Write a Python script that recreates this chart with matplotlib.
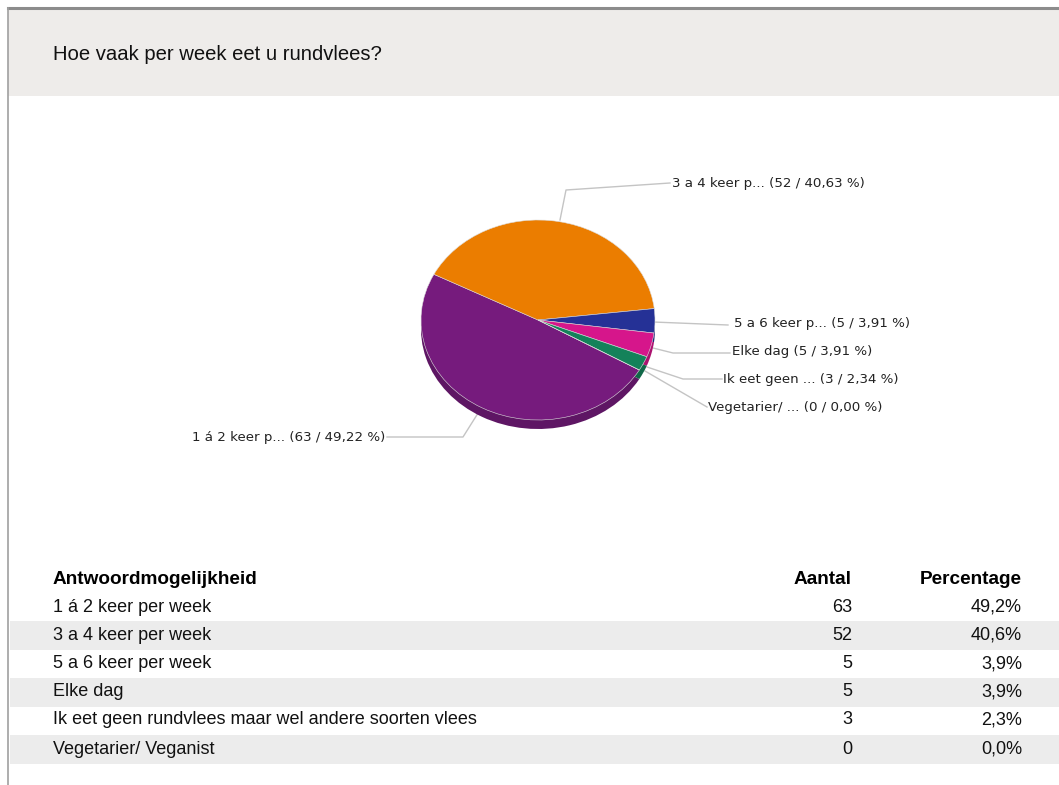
import numpy as np
import matplotlib.pyplot as plt
from matplotlib.colors import to_rgb
from decimal import Decimal, ROUND_HALF_UP

plt.rcParams['font.family'] = ['Liberation Sans', 'DejaVu Sans']

title = 'Hoe vaak per week eet u rundvlees?'
answers = ['1 á 2 keer per week', '3 a 4 keer per week', '5 a 6 keer per week',
           'Elke dag', 'Ik eet geen rundvlees maar wel andere soorten vlees',
           'Vegetarier/ Veganist']
short_names = ['1 á 2 keer p...', '3 a 4 keer p...', '5 a 6 keer p...',
               'Elke dag', 'Ik eet geen ...', 'Vegetarier/ ...']
counts = [63, 52, 5, 5, 3, 0]
colors = ['#761b7d', '#eb7d00', '#253196', '#d6168b', '#14825a', '#8a8a8a']


def pct_str(n, total, digits):
    q = Decimal(1).scaleb(-digits)
    v = (Decimal(100) * n / total).quantize(q, rounding=ROUND_HALF_UP)
    return str(v).replace('.', ',')


W, H = 1059, 785
fig = plt.figure(figsize=(W / 100, H / 100), dpi=100)
bg = fig.add_axes([0, 0, 1, 1])
bg.set_xlim(0, W)
bg.set_ylim(H, 0)
bg.axis('off')

# panel frame and header band
bg.add_patch(plt.Rectangle((8, 8), W, 88, color='#eeecea', lw=0, zorder=0))
bg.plot([8, W], [8, 8], color='#8c8c8c', lw=2.2)
bg.plot([8, 8], [8, H], color='#a0a0a0', lw=1.2)
bg.text(53, 55, title, fontsize=14.6, va='center', ha='left', color='#111111')

# pie: elliptical top face plus a darker rim for depth
cx, cy, rx, ry = 538, 320, 117, 100
pie_ax = fig.add_axes([(cx - rx) / W, 1 - (cy + ry + 10) / H, 2 * rx / W, (2 * ry + 10) / H])
dark = [tuple(c * 0.8 for c in to_rgb(col)) for col in colors]
pie_ax.pie(counts, colors=dark, startangle=-30, counterclock=False,
           center=(0, -0.09), radius=1, wedgeprops=dict(linewidth=0))
pie_ax.pie(counts, colors=colors, startangle=-30, counterclock=False,
           radius=1, wedgeprops=dict(linewidth=0.4, edgecolor='#dddddd'))
pie_ax.set_aspect('auto')
pie_ax.set_xlim(-1, 1)
pie_ax.set_ylim(-1.1, 1)
pie_ax.axis('off')

total = sum(counts)
pie_labels = [f'{name} ({n} / {pct_str(n, total, 2)} %)'
              for name, n in zip(short_names, counts)]

# leader lines and labels (pixel positions around the pie)
leaders = [
    [(480, 410), (463, 437), (387, 437)],
    [(560, 220), (566, 190), (670, 183)],
    [(653, 322), (728, 325)],
    [(653, 348), (673, 353), (730, 353)],
    [(647, 367), (683, 379), (722, 379)],
    [(645, 371), (707, 407)],
]
label_pos = [(385, 437, 'right'), (672, 183, 'left'), (734, 324, 'left'),
             (732, 352, 'left'), (723, 380, 'left'), (708, 408, 'left')]
for pts, (x, y, ha), lab in zip(leaders, label_pos, pie_labels):
    xs, ys = zip(*pts)
    bg.plot(xs, ys, color='#c4c4c4', lw=1.0, zorder=1)
    bg.text(x, y, lab, fontsize=9.6, ha=ha, va='center', color='#222222',
            family=['DejaVu Sans'])

# results table
row_y = [607, 635, 664, 692, 720, 749]
bg.text(53, 579, 'Antwoordmogelijkheid', fontsize=13.7, fontweight='bold', va='center')
bg.text(852, 579, 'Aantal', fontsize=13.7, fontweight='bold', va='center', ha='right')
bg.text(1022, 579, 'Percentage', fontsize=13.7, fontweight='bold', va='center', ha='right')
for i, (ans, n, y) in enumerate(zip(answers, counts, row_y)):
    if i % 2 == 1:
        bg.add_patch(plt.Rectangle((10, y - 14.5), W, 29, color='#ececec', lw=0, zorder=0))
    bg.text(53, y, ans, fontsize=13, va='center', color='#111111')
    bg.text(852, y, str(n), fontsize=13, va='center', ha='right', color='#111111')
    bg.text(1022, y, pct_str(n, total, 1) + '%', fontsize=13, va='center', ha='right',
            color='#111111')

fig.savefig('out.png', dpi=100)
